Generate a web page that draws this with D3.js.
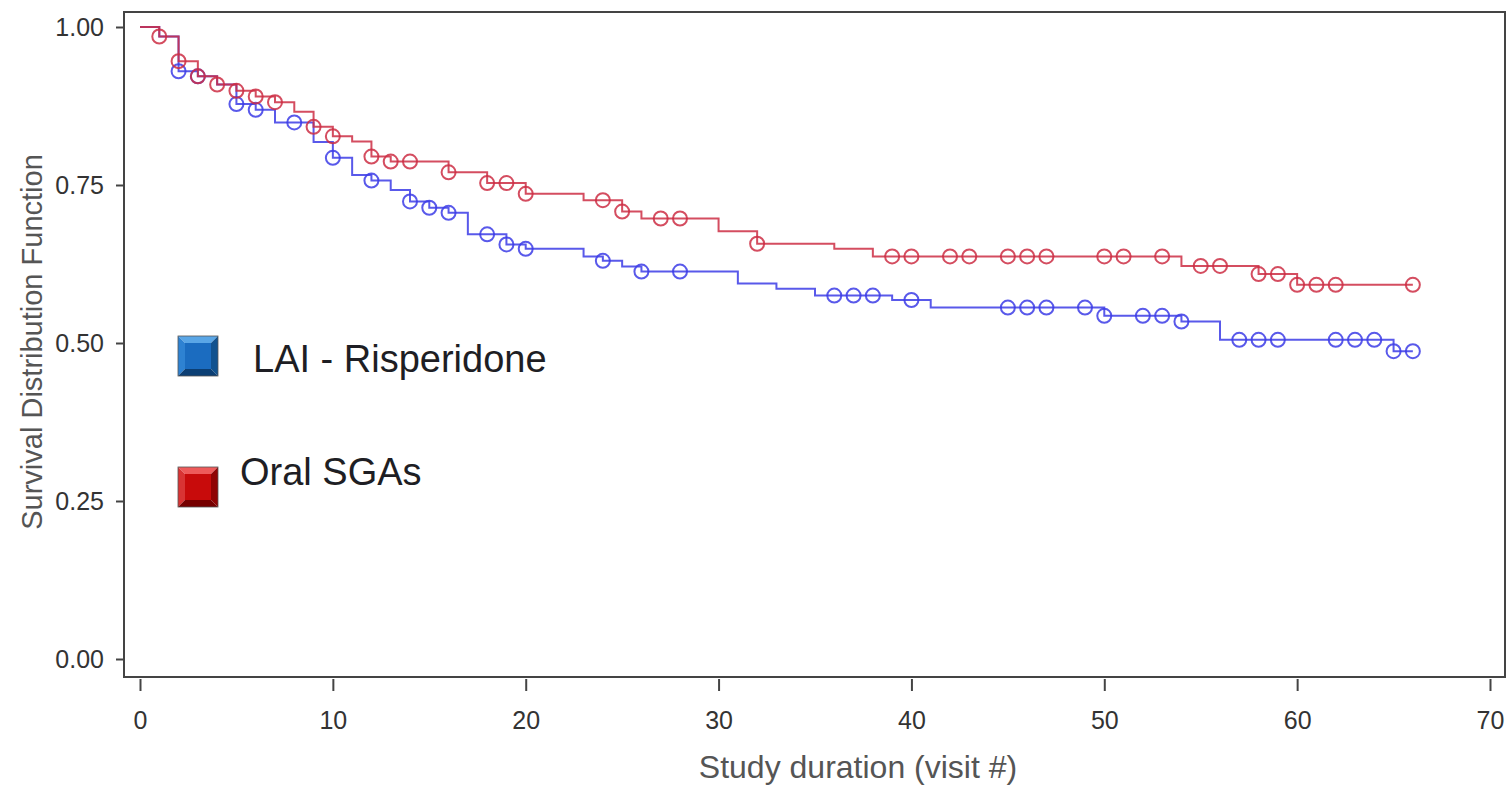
<!DOCTYPE html>
<html>
<head>
<meta charset="utf-8">
<script src="https://cdn.jsdelivr.net/npm/d3@7/dist/d3.min.js"></script>
<style>
  html, body { margin: 0; padding: 0; background: #fff; }
  svg { display: block; }
</style>
</head>
<body>
<svg id="chart" width="1512" height="786"></svg>
<script>
// step points [visit, survival] for each arm
const laiSteps = [
  [0, 1.00], [1, 0.985], [2, 0.930], [3, 0.922], [4, 0.909], [5, 0.878], [6, 0.869], [7, 0.849],
  [9, 0.818], [10, 0.793], [11, 0.766], [12, 0.757], [13, 0.742], [14, 0.724],
  [15, 0.714], [16, 0.706], [17, 0.672], [19, 0.656], [20, 0.649], [23, 0.637],
  [24, 0.630], [25, 0.621], [26, 0.613], [31, 0.594], [33, 0.586], [35, 0.575],
  [39, 0.568], [41, 0.556], [50, 0.543], [54, 0.534], [56, 0.505], [65, 0.487], [66, 0.487]
]
const oralSteps = [
  [0, 1.00], [1, 0.985], [2, 0.946], [3, 0.922], [4, 0.909], [5, 0.899], [6, 0.890],
  [7, 0.881], [8, 0.866], [9, 0.842], [10, 0.827], [11, 0.819], [12, 0.795],
  [13, 0.787], [16, 0.770], [18, 0.753], [20, 0.736], [23, 0.726], [25, 0.708],
  [26, 0.697], [30, 0.677], [32, 0.657], [36, 0.649], [38, 0.637], [54, 0.622],
  [58, 0.609], [60, 0.592], [66, 0.592]
]
// censored visits
const laiCensored = [2, 3, 5, 6, 8, 10, 12, 14, 15, 16, 18, 19, 20, 24, 26, 28, 36, 37, 38, 40,
  45, 46, 47, 49, 50, 52, 53, 54, 57, 58, 59, 62, 63, 64, 65, 66]
const oralCensored = [1, 2, 3, 4, 5, 6, 7, 9, 10, 12, 13, 14, 16, 18, 19, 20, 24, 25, 27, 28, 32,
  39, 40, 42, 43, 45, 46, 47, 50, 51, 53, 55, 56, 58, 59, 60, 61, 62, 66]

const xTicks = [0, 10, 20, 30, 40, 50, 60, 70]
const yTicks = [0, 0.25, 0.5, 0.75, 1]
const legendNames = ["LAI - Risperidone", "Oral SGAs"]

const blue = "#3c3ce6"
const red = "#cc2e44"

const svg = d3.select("#chart")

const frame = {left: 124, top: 12, right: 1505, bottom: 677}

const x = d3.scaleLinear().domain([0, 70]).range([140, 1490])
const y = d3.scaleLinear().domain([0, 1]).range([659, 27])

function survAt(steps, t) {
  let v = steps[0][1]
  steps.forEach(s => { if (s[0] <= t) v = s[1] })
  return v
}

// frame
svg.append("rect")
  .attr("x", frame.left).attr("y", frame.top)
  .attr("width", frame.right - frame.left).attr("height", frame.bottom - frame.top)
  .attr("fill", "none").attr("stroke", "#444").attr("stroke-width", 2)

// y axis
const yAxis = svg.append("g")
  .attr("transform", "translate(" + frame.left + ",0)")
  .call(d3.axisLeft(y).tickValues(yTicks).tickFormat(d3.format(".2f")).tickSize(8).tickPadding(12))
yAxis.select(".domain").remove()
yAxis.selectAll(".tick line").attr("stroke", "#444").attr("stroke-width", 2)
yAxis.selectAll(".tick text")
  .style("font-family", "'Liberation Sans Narrow', 'Arial Narrow', 'Liberation Sans', sans-serif")
  .style("font-size", "25px").attr("fill", "#333")

// x axis (ticks sit just below the frame)
const xAxis = svg.append("g")
  .attr("transform", "translate(0," + (frame.bottom + 2) + ")")
  .call(d3.axisBottom(x).tickValues(xTicks).tickSize(12).tickPadding(20))
xAxis.select(".domain").remove()
xAxis.selectAll(".tick line").attr("stroke", "#444").attr("stroke-width", 2)
xAxis.selectAll(".tick text")
  .style("font-family", "'Liberation Sans Narrow', 'Arial Narrow', 'Liberation Sans', sans-serif")
  .style("font-size", "25px").attr("fill", "#333")

// axis titles
svg.append("text")
  .attr("x", 858).attr("y", 778)
  .attr("text-anchor", "middle")
  .style("font-family", "'Liberation Sans', Arial, sans-serif")
  .style("font-size", "32px").attr("fill", "#555")
  .text("Study duration (visit #)")

svg.append("text")
  .attr("transform", "translate(42,342) rotate(-90)")
  .attr("text-anchor", "middle")
  .style("font-family", "'Liberation Sans', Arial, sans-serif")
  .style("font-size", "29px").attr("fill", "#555")
  .text("Survival Distribution Function")

// curves
const line = d3.line()
  .x(d => x(d[0]))
  .y(d => y(d[1]))
  .curve(d3.curveStepAfter)

const series = [
  {steps: laiSteps, censored: laiCensored, color: blue},
  {steps: oralSteps, censored: oralCensored, color: red}
]

series.forEach(s => {
  svg.append("path")
    .datum(s.steps)
    .attr("d", line)
    .attr("fill", "none")
    .attr("stroke", s.color)
    .attr("stroke-width", 2)
    .attr("stroke-opacity", 0.85)

  svg.append("g").selectAll("circle")
    .data(s.censored)
    .join("circle")
    .attr("cx", d => x(d))
    .attr("cy", d => y(survAt(s.steps, d)))
    .attr("r", 7)
    .attr("fill", "none")
    .attr("stroke", s.color)
    .attr("stroke-width", 2)
    .attr("stroke-opacity", 0.85)
})

// legend with bevelled squares
const legendItems = [
  {name: legendNames[0], x: 178, y: 336, tx: 253, ty: 372,
   shades: ["#5aa6e6", "#2e82d2", "#1b6cc0", "#11528f", "#0c3f74"]},
  {name: legendNames[1], x: 178, y: 467, tx: 240, ty: 485,
   shades: ["#ee5a5a", "#d93434", "#c80b0b", "#8f0303", "#760000"]}
]

legendItems.forEach(it => {
  const s = 40, b = 7
  const g = svg.append("g").attr("transform", "translate(" + it.x + "," + it.y + ")")
  // top, left, center, right, bottom
  g.append("polygon").attr("points", [[0,0],[s,0],[s-b,b],[b,b]].join(" ")).attr("fill", it.shades[0])
  g.append("polygon").attr("points", [[0,0],[b,b],[b,s-b],[0,s]].join(" ")).attr("fill", it.shades[1])
  g.append("rect").attr("x", b).attr("y", b).attr("width", s - 2*b).attr("height", s - 2*b).attr("fill", it.shades[2])
  g.append("polygon").attr("points", [[s,0],[s,s],[s-b,s-b],[s-b,b]].join(" ")).attr("fill", it.shades[3])
  g.append("polygon").attr("points", [[0,s],[b,s-b],[s-b,s-b],[s,s]].join(" ")).attr("fill", it.shades[4])
  g.append("rect").attr("width", s).attr("height", s).attr("fill", "none")
    .attr("stroke", "#555").attr("stroke-width", 0.8)

  svg.append("text")
    .attr("x", it.tx).attr("y", it.ty)
    .style("font-family", "'Liberation Sans', Arial, sans-serif")
    .style("font-size", "38px").attr("fill", "#1e1e24")
    .text(it.name)
})
</script>
</body>
</html>
